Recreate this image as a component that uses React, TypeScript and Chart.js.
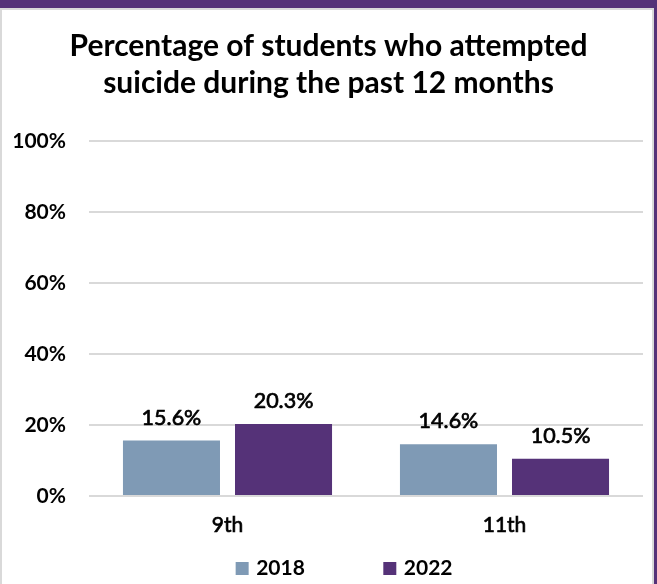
import React, { useEffect, useRef } from 'react';
import { Chart, registerables } from 'chart.js';

Chart.register(...registerables);

const TITLE_LINES = ['Percentage of students who attempted', 'suicide during the past 12 months'];
const GRADES = ['9th', '11th'];
const YEARS = ['2018', '2022'];
const VALUES_2018 = [15.6, 14.6];
const VALUES_2022 = [20.3, 10.5];
const BAR_COLORS = ['#7f9ab5', '#553278'];
const Y_MIN = 0;
const Y_MAX = 100;
const Y_STEP = 20;

const FONT = 'Lato, Carlito, Calibri, "Open Sans", sans-serif';
const W = 657;
const H = 589;

const valueLabels = {
  id: 'valueLabels',
  afterDatasetsDraw(chart: any) {
    const { ctx } = chart;
    ctx.save();
    ctx.font = `normal 21.5px ${FONT}`;
    ctx.fillStyle = '#000';
    ctx.strokeStyle = '#000';
    ctx.lineWidth = 0.7;
    ctx.lineJoin = 'round';
    ctx.textAlign = 'center';
    ctx.textBaseline = 'middle';
    chart.data.datasets.forEach((ds: any, i: number) => {
      const meta = chart.getDatasetMeta(i);
      meta.data.forEach((bar: any, j: number) => {
        const t = Number(ds.data[j]).toFixed(1) + '%';
        ctx.strokeText(t, bar.x, bar.y - 23);
        ctx.fillText(t, bar.x, bar.y - 23);
      });
    });
    ctx.restore();
  },
};

function padLabel(text: string, targetWidth: number, font: string) {
  const c = document.createElement('canvas').getContext('2d')!;
  c.font = font;
  const sw = c.measureText(' ').width || 5;
  const tw = c.measureText(text).width;
  const n = Math.max(0, Math.round((targetWidth - tw) / sw));
  return text + ' '.repeat(n);
}

export default function App() {
  const ref = useRef<HTMLCanvasElement | null>(null);

  useEffect(() => {
    if (!ref.current) return;
    const legendFont = `bold 21px ${FONT}`;
    const legendTexts = [padLabel(YEARS[0], 118, legendFont), padLabel(YEARS[1], 92, legendFont)];
    const chart = new Chart(ref.current, {
      type: 'bar',
      data: {
        labels: GRADES,
        datasets: [
          { label: YEARS[0], data: VALUES_2018, backgroundColor: BAR_COLORS[0] },
          { label: YEARS[1], data: VALUES_2022, backgroundColor: BAR_COLORS[1] },
        ],
      },
      options: {
        animation: false,
        responsive: false,
        devicePixelRatio: 1,
        categoryPercentage: 0.809,
        barPercentage: 0.866,
        layout: { padding: { left: 14, right: 14, top: 0, bottom: 0 } },
        plugins: {
          title: {
            display: true,
            text: TITLE_LINES,
            color: '#000',
            font: { family: FONT, size: 30, weight: 'bold', lineHeight: 1.223 },
            padding: { top: 28, bottom: 39.6 },
          },
          legend: {
            display: true,
            position: 'bottom',
            fullSize: false,
            labels: {
              color: '#000',
              font: { family: FONT, size: 21, weight: 'bold' },
              usePointStyle: true,
              pointStyle: 'rect',
              boxWidth: 7,
              boxHeight: 13,
              padding: 10,
              generateLabels: (ch: any) =>
                ch.data.datasets.map((ds: any, i: number) => ({
                  text: legendTexts[i],
                  fillStyle: ds.backgroundColor,
                  strokeStyle: ds.backgroundColor,
                  lineWidth: 0,
                  pointStyle: 'rect',
                  hidden: false,
                  datasetIndex: i,
                })),
            },
          },
          tooltip: { enabled: false },
        },
        scales: {
          x: {
            grid: { display: false, drawTicks: false },
            border: { display: false },
            ticks: {
              color: '#000',
              font: { family: FONT, size: 21, weight: 'normal' },
              padding: 17,
              textStrokeColor: '#000',
              textStrokeWidth: 0.7,
            },
            afterFit: (s: any) => { s.height = 52; },
          },
          y: {
            min: Y_MIN,
            max: Y_MAX,
            grid: { color: '#d9d9d9', lineWidth: 2, drawTicks: false },
            border: { display: false },
            ticks: {
              stepSize: Y_STEP,
              color: '#000',
              padding: 23,
              font: { family: FONT, size: 21, weight: 'bold' },
              callback: (v: any) => v + '%',
            },
            afterFit: (s: any) => { s.width = 75; },
          },
        },
      },
      plugins: [valueLabels],
    } as any);
    return () => chart.destroy();
  }, []);

  return (
    <div style={{ position: 'fixed', left: 0, top: 0, width: 657, height: 584, overflow: 'hidden', background: '#553278' }}>
      <div
        style={{
          position: 'absolute', left: 0, top: 8, width: 654, height: 590, background: '#fff',
          borderLeft: '2px solid #d9d9d9', borderTop: '2px solid #d9d9d9', borderRight: '2px solid #d9d9d9',
          boxSizing: 'border-box',
        }}
      />
      <canvas ref={ref} width={W} height={H} style={{ position: 'absolute', left: 0, top: 0, width: W, height: H }} />
    </div>
  );
}
